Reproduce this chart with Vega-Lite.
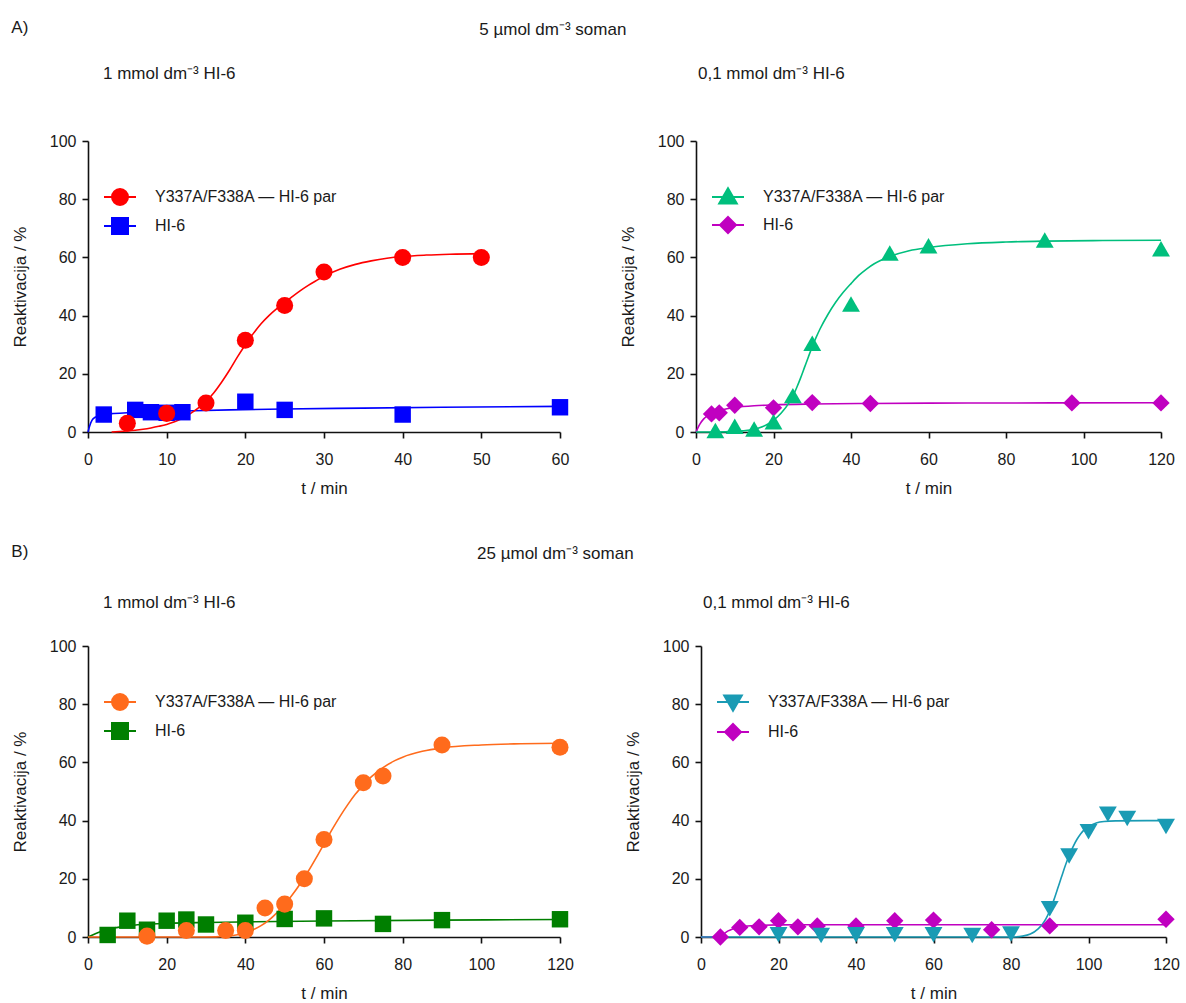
{
  "$schema": "https://vega.github.io/schema/vega-lite/v6.json",
  "padding": {"left": 11, "top": 19, "right": 5, "bottom": 5},
  "background": "white",
  "config": {
    "font": "Liberation Sans",
    "view": {"stroke": null},
    "title": {"font": "Liberation Sans", "fontSize": 17, "fontWeight": "normal", "color": "#1a1a1a"},
    "axis": {"grid": false, "domainColor": "#111", "domainWidth": 1.6, "tickColor": "#111", "tickWidth": 1.6, "tickSize": 6, "labelFont": "Liberation Sans", "labelFontSize": 16, "labelColor": "#1a1a1a", "titleFont": "Liberation Sans", "titleFontSize": 17, "titleFontWeight": "normal", "titleColor": "#1a1a1a", "labelFlush": false},
    "axisX": {"labelPadding": 13, "titlePadding": 13},
    "axisY": {"labelPadding": 6, "titlePadding": 20},
    "line": {"strokeWidth": 1.6, "interpolate": "monotone"},
    "point": {"filled": true, "opacity": 1},
    "legend": {"orient": "none", "legendX": 23, "legendY": 47, "title": null, "labelFont": "Liberation Sans", "labelFontSize": 16, "labelColor": "#1a1a1a", "labelOffset": 26, "rowPadding": 5, "symbolSize": 256, "symbolStrokeWidth": 2, "symbolOpacity": 1, "labelLimit": 400}
  },
  "datasets": {
    "A1_pts": [
      {"series": "HI-6", "t": 2, "r": 6},
      {"series": "HI-6", "t": 6, "r": 7.6},
      {"series": "HI-6", "t": 8, "r": 6.8},
      {"series": "HI-6", "t": 10, "r": 6.6},
      {"series": "HI-6", "t": 12, "r": 6.8},
      {"series": "HI-6", "t": 20, "r": 10.4},
      {"series": "HI-6", "t": 25, "r": 7.6},
      {"series": "HI-6", "t": 40, "r": 6},
      {"series": "HI-6", "t": 60, "r": 8.5},
      {"series": "Y337A/F338A — HI-6 par", "t": 5, "r": 3},
      {"series": "Y337A/F338A — HI-6 par", "t": 10, "r": 6.4},
      {"series": "Y337A/F338A — HI-6 par", "t": 15, "r": 10},
      {"series": "Y337A/F338A — HI-6 par", "t": 20, "r": 31.5},
      {"series": "Y337A/F338A — HI-6 par", "t": 25, "r": 43.5},
      {"series": "Y337A/F338A — HI-6 par", "t": 30, "r": 55},
      {"series": "Y337A/F338A — HI-6 par", "t": 40, "r": 60},
      {"series": "Y337A/F338A — HI-6 par", "t": 50, "r": 60}
    ],
    "A1_fit": [
      {"series": "HI-6", "t": 0, "r": 0},
      {"series": "HI-6", "t": 0.2, "r": 2},
      {"series": "HI-6", "t": 0.5, "r": 4},
      {"series": "HI-6", "t": 1, "r": 5.2},
      {"series": "HI-6", "t": 1.5, "r": 5.7},
      {"series": "HI-6", "t": 2, "r": 6},
      {"series": "HI-6", "t": 3, "r": 6.3},
      {"series": "HI-6", "t": 5, "r": 6.6},
      {"series": "HI-6", "t": 8, "r": 6.9},
      {"series": "HI-6", "t": 12, "r": 7.2},
      {"series": "HI-6", "t": 18, "r": 7.6},
      {"series": "HI-6", "t": 25, "r": 7.9},
      {"series": "HI-6", "t": 35, "r": 8.2},
      {"series": "HI-6", "t": 45, "r": 8.5},
      {"series": "HI-6", "t": 60, "r": 8.8},
      {"series": "Y337A/F338A — HI-6 par", "t": 3, "r": 0},
      {"series": "Y337A/F338A — HI-6 par", "t": 4, "r": 0.15},
      {"series": "Y337A/F338A — HI-6 par", "t": 5, "r": 0.35},
      {"series": "Y337A/F338A — HI-6 par", "t": 6, "r": 0.6},
      {"series": "Y337A/F338A — HI-6 par", "t": 7, "r": 0.95},
      {"series": "Y337A/F338A — HI-6 par", "t": 8, "r": 1.4},
      {"series": "Y337A/F338A — HI-6 par", "t": 9, "r": 1.95},
      {"series": "Y337A/F338A — HI-6 par", "t": 10, "r": 2.6},
      {"series": "Y337A/F338A — HI-6 par", "t": 11, "r": 3.5},
      {"series": "Y337A/F338A — HI-6 par", "t": 12, "r": 4.7},
      {"series": "Y337A/F338A — HI-6 par", "t": 13, "r": 6.3},
      {"series": "Y337A/F338A — HI-6 par", "t": 14, "r": 8.2},
      {"series": "Y337A/F338A — HI-6 par", "t": 15, "r": 10.5},
      {"series": "Y337A/F338A — HI-6 par", "t": 16, "r": 13.5},
      {"series": "Y337A/F338A — HI-6 par", "t": 17, "r": 17.2},
      {"series": "Y337A/F338A — HI-6 par", "t": 18, "r": 21.3},
      {"series": "Y337A/F338A — HI-6 par", "t": 19, "r": 25.8},
      {"series": "Y337A/F338A — HI-6 par", "t": 20, "r": 30},
      {"series": "Y337A/F338A — HI-6 par", "t": 21, "r": 33.8},
      {"series": "Y337A/F338A — HI-6 par", "t": 22, "r": 37.2},
      {"series": "Y337A/F338A — HI-6 par", "t": 23, "r": 40},
      {"series": "Y337A/F338A — HI-6 par", "t": 24, "r": 42.4},
      {"series": "Y337A/F338A — HI-6 par", "t": 25, "r": 44.5},
      {"series": "Y337A/F338A — HI-6 par", "t": 26, "r": 46.6},
      {"series": "Y337A/F338A — HI-6 par", "t": 27, "r": 48.6},
      {"series": "Y337A/F338A — HI-6 par", "t": 28, "r": 50.4},
      {"series": "Y337A/F338A — HI-6 par", "t": 29, "r": 52},
      {"series": "Y337A/F338A — HI-6 par", "t": 30, "r": 53.5},
      {"series": "Y337A/F338A — HI-6 par", "t": 32, "r": 55.9},
      {"series": "Y337A/F338A — HI-6 par", "t": 34, "r": 57.6},
      {"series": "Y337A/F338A — HI-6 par", "t": 36, "r": 58.8},
      {"series": "Y337A/F338A — HI-6 par", "t": 38, "r": 59.7},
      {"series": "Y337A/F338A — HI-6 par", "t": 40, "r": 60.3},
      {"series": "Y337A/F338A — HI-6 par", "t": 43, "r": 60.8},
      {"series": "Y337A/F338A — HI-6 par", "t": 46, "r": 61.1},
      {"series": "Y337A/F338A — HI-6 par", "t": 50, "r": 61.3}
    ],
    "A2_pts": [
      {"series": "HI-6", "t": 4, "r": 6.2},
      {"series": "HI-6", "t": 6, "r": 6.6},
      {"series": "HI-6", "t": 10, "r": 9.2},
      {"series": "HI-6", "t": 20, "r": 8.3},
      {"series": "HI-6", "t": 30, "r": 10.1},
      {"series": "HI-6", "t": 45, "r": 9.8},
      {"series": "HI-6", "t": 97, "r": 10},
      {"series": "HI-6", "t": 120, "r": 10},
      {"series": "Y337A/F338A — HI-6 par", "t": 5, "r": 0.5},
      {"series": "Y337A/F338A — HI-6 par", "t": 10, "r": 2},
      {"series": "Y337A/F338A — HI-6 par", "t": 15, "r": 1},
      {"series": "Y337A/F338A — HI-6 par", "t": 20, "r": 3.5},
      {"series": "Y337A/F338A — HI-6 par", "t": 25, "r": 12.5},
      {"series": "Y337A/F338A — HI-6 par", "t": 30, "r": 30.5},
      {"series": "Y337A/F338A — HI-6 par", "t": 40, "r": 44},
      {"series": "Y337A/F338A — HI-6 par", "t": 50, "r": 61.5},
      {"series": "Y337A/F338A — HI-6 par", "t": 60, "r": 64},
      {"series": "Y337A/F338A — HI-6 par", "t": 90, "r": 66},
      {"series": "Y337A/F338A — HI-6 par", "t": 120, "r": 63}
    ],
    "A2_fit": [
      {"series": "HI-6", "t": 0, "r": 0},
      {"series": "HI-6", "t": 1, "r": 2.7},
      {"series": "HI-6", "t": 2, "r": 4.5},
      {"series": "HI-6", "t": 3, "r": 5.6},
      {"series": "HI-6", "t": 4, "r": 6.4},
      {"series": "HI-6", "t": 6, "r": 7.4},
      {"series": "HI-6", "t": 8, "r": 8},
      {"series": "HI-6", "t": 10, "r": 8.4},
      {"series": "HI-6", "t": 15, "r": 9},
      {"series": "HI-6", "t": 20, "r": 9.3},
      {"series": "HI-6", "t": 30, "r": 9.6},
      {"series": "HI-6", "t": 45, "r": 9.8},
      {"series": "HI-6", "t": 70, "r": 9.95},
      {"series": "HI-6", "t": 120, "r": 10.05},
      {"series": "Y337A/F338A — HI-6 par", "t": 0, "r": 0},
      {"series": "Y337A/F338A — HI-6 par", "t": 5, "r": 0},
      {"series": "Y337A/F338A — HI-6 par", "t": 10, "r": 0.2},
      {"series": "Y337A/F338A — HI-6 par", "t": 12, "r": 0.4},
      {"series": "Y337A/F338A — HI-6 par", "t": 14, "r": 0.7},
      {"series": "Y337A/F338A — HI-6 par", "t": 16, "r": 1.3},
      {"series": "Y337A/F338A — HI-6 par", "t": 18, "r": 2.3},
      {"series": "Y337A/F338A — HI-6 par", "t": 20, "r": 4},
      {"series": "Y337A/F338A — HI-6 par", "t": 22, "r": 6.5},
      {"series": "Y337A/F338A — HI-6 par", "t": 24, "r": 10},
      {"series": "Y337A/F338A — HI-6 par", "t": 25, "r": 12.3},
      {"series": "Y337A/F338A — HI-6 par", "t": 26, "r": 15.3},
      {"series": "Y337A/F338A — HI-6 par", "t": 27, "r": 18.6},
      {"series": "Y337A/F338A — HI-6 par", "t": 28, "r": 22.2},
      {"series": "Y337A/F338A — HI-6 par", "t": 29, "r": 25.8},
      {"series": "Y337A/F338A — HI-6 par", "t": 30, "r": 29.3},
      {"series": "Y337A/F338A — HI-6 par", "t": 31, "r": 32.5},
      {"series": "Y337A/F338A — HI-6 par", "t": 32, "r": 35.4},
      {"series": "Y337A/F338A — HI-6 par", "t": 34, "r": 40.3},
      {"series": "Y337A/F338A — HI-6 par", "t": 36, "r": 44.5},
      {"series": "Y337A/F338A — HI-6 par", "t": 38, "r": 48},
      {"series": "Y337A/F338A — HI-6 par", "t": 40, "r": 51},
      {"series": "Y337A/F338A — HI-6 par", "t": 42, "r": 53.8},
      {"series": "Y337A/F338A — HI-6 par", "t": 44, "r": 56},
      {"series": "Y337A/F338A — HI-6 par", "t": 46, "r": 57.8},
      {"series": "Y337A/F338A — HI-6 par", "t": 48, "r": 59.2},
      {"series": "Y337A/F338A — HI-6 par", "t": 50, "r": 60.3},
      {"series": "Y337A/F338A — HI-6 par", "t": 55, "r": 62.3},
      {"series": "Y337A/F338A — HI-6 par", "t": 60, "r": 63.4},
      {"series": "Y337A/F338A — HI-6 par", "t": 70, "r": 64.7},
      {"series": "Y337A/F338A — HI-6 par", "t": 80, "r": 65.3},
      {"series": "Y337A/F338A — HI-6 par", "t": 90, "r": 65.6},
      {"series": "Y337A/F338A — HI-6 par", "t": 105, "r": 65.8},
      {"series": "Y337A/F338A — HI-6 par", "t": 120, "r": 65.9}
    ],
    "B1_pts": [
      {"series": "HI-6", "t": 5, "r": 0.7},
      {"series": "HI-6", "t": 10, "r": 5.6},
      {"series": "HI-6", "t": 15, "r": 2.5},
      {"series": "HI-6", "t": 20, "r": 5.6},
      {"series": "HI-6", "t": 25, "r": 6},
      {"series": "HI-6", "t": 30, "r": 4.3},
      {"series": "HI-6", "t": 40, "r": 4.9},
      {"series": "HI-6", "t": 50, "r": 6.2},
      {"series": "HI-6", "t": 60, "r": 6.4},
      {"series": "HI-6", "t": 75, "r": 4.5},
      {"series": "HI-6", "t": 90, "r": 5.8},
      {"series": "HI-6", "t": 120, "r": 6.1},
      {"series": "Y337A/F338A — HI-6 par", "t": 15, "r": 0.3},
      {"series": "Y337A/F338A — HI-6 par", "t": 25, "r": 2.2},
      {"series": "Y337A/F338A — HI-6 par", "t": 35, "r": 2.2},
      {"series": "Y337A/F338A — HI-6 par", "t": 40, "r": 2.2},
      {"series": "Y337A/F338A — HI-6 par", "t": 45, "r": 10},
      {"series": "Y337A/F338A — HI-6 par", "t": 50, "r": 11.3},
      {"series": "Y337A/F338A — HI-6 par", "t": 55, "r": 20},
      {"series": "Y337A/F338A — HI-6 par", "t": 60, "r": 33.5},
      {"series": "Y337A/F338A — HI-6 par", "t": 70, "r": 53},
      {"series": "Y337A/F338A — HI-6 par", "t": 75, "r": 55.3},
      {"series": "Y337A/F338A — HI-6 par", "t": 90, "r": 66},
      {"series": "Y337A/F338A — HI-6 par", "t": 120, "r": 65.2}
    ],
    "B1_fit": [
      {"series": "HI-6", "t": 0, "r": 0},
      {"series": "HI-6", "t": 2, "r": 1.2},
      {"series": "HI-6", "t": 4, "r": 2.2},
      {"series": "HI-6", "t": 6, "r": 2.9},
      {"series": "HI-6", "t": 8, "r": 3.4},
      {"series": "HI-6", "t": 10, "r": 3.8},
      {"series": "HI-6", "t": 14, "r": 4.3},
      {"series": "HI-6", "t": 20, "r": 4.7},
      {"series": "HI-6", "t": 30, "r": 5},
      {"series": "HI-6", "t": 40, "r": 5.2},
      {"series": "HI-6", "t": 60, "r": 5.5},
      {"series": "HI-6", "t": 90, "r": 5.8},
      {"series": "HI-6", "t": 120, "r": 6},
      {"series": "Y337A/F338A — HI-6 par", "t": 0, "r": 0},
      {"series": "Y337A/F338A — HI-6 par", "t": 30, "r": 0},
      {"series": "Y337A/F338A — HI-6 par", "t": 35, "r": 0.3},
      {"series": "Y337A/F338A — HI-6 par", "t": 38, "r": 0.8},
      {"series": "Y337A/F338A — HI-6 par", "t": 40, "r": 1.5},
      {"series": "Y337A/F338A — HI-6 par", "t": 42, "r": 2.5},
      {"series": "Y337A/F338A — HI-6 par", "t": 44, "r": 3.9},
      {"series": "Y337A/F338A — HI-6 par", "t": 46, "r": 5.8},
      {"series": "Y337A/F338A — HI-6 par", "t": 48, "r": 8.3},
      {"series": "Y337A/F338A — HI-6 par", "t": 50, "r": 11.2},
      {"series": "Y337A/F338A — HI-6 par", "t": 52, "r": 14.6},
      {"series": "Y337A/F338A — HI-6 par", "t": 54, "r": 18.4},
      {"series": "Y337A/F338A — HI-6 par", "t": 56, "r": 22.6},
      {"series": "Y337A/F338A — HI-6 par", "t": 58, "r": 27.2},
      {"series": "Y337A/F338A — HI-6 par", "t": 60, "r": 32},
      {"series": "Y337A/F338A — HI-6 par", "t": 62, "r": 36.8},
      {"series": "Y337A/F338A — HI-6 par", "t": 64, "r": 41.3},
      {"series": "Y337A/F338A — HI-6 par", "t": 66, "r": 45.4},
      {"series": "Y337A/F338A — HI-6 par", "t": 68, "r": 49.1},
      {"series": "Y337A/F338A — HI-6 par", "t": 70, "r": 52.2},
      {"series": "Y337A/F338A — HI-6 par", "t": 72, "r": 55},
      {"series": "Y337A/F338A — HI-6 par", "t": 75, "r": 58.2},
      {"series": "Y337A/F338A — HI-6 par", "t": 78, "r": 60.6},
      {"series": "Y337A/F338A — HI-6 par", "t": 80, "r": 61.8},
      {"series": "Y337A/F338A — HI-6 par", "t": 85, "r": 63.8},
      {"series": "Y337A/F338A — HI-6 par", "t": 90, "r": 65},
      {"series": "Y337A/F338A — HI-6 par", "t": 100, "r": 66},
      {"series": "Y337A/F338A — HI-6 par", "t": 110, "r": 66.4},
      {"series": "Y337A/F338A — HI-6 par", "t": 120, "r": 66.6}
    ],
    "B2_pts": [
      {"series": "HI-6", "t": 5, "r": 0},
      {"series": "HI-6", "t": 10, "r": 3.3},
      {"series": "HI-6", "t": 15, "r": 3.5},
      {"series": "HI-6", "t": 20, "r": 5.6},
      {"series": "HI-6", "t": 25, "r": 3.5},
      {"series": "HI-6", "t": 30, "r": 3.8},
      {"series": "HI-6", "t": 40, "r": 3.8},
      {"series": "HI-6", "t": 50, "r": 5.6},
      {"series": "HI-6", "t": 60, "r": 5.8},
      {"series": "HI-6", "t": 75, "r": 2.5},
      {"series": "HI-6", "t": 90, "r": 3.8},
      {"series": "HI-6", "t": 120, "r": 6.1},
      {"series": "Y337A/F338A — HI-6 par", "t": 20, "r": 0.8},
      {"series": "Y337A/F338A — HI-6 par", "t": 31, "r": 0.5},
      {"series": "Y337A/F338A — HI-6 par", "t": 40, "r": 0.8},
      {"series": "Y337A/F338A — HI-6 par", "t": 50, "r": 0.8},
      {"series": "Y337A/F338A — HI-6 par", "t": 60, "r": 0.8},
      {"series": "Y337A/F338A — HI-6 par", "t": 70, "r": 0.5},
      {"series": "Y337A/F338A — HI-6 par", "t": 80, "r": 1},
      {"series": "Y337A/F338A — HI-6 par", "t": 90, "r": 9.7},
      {"series": "Y337A/F338A — HI-6 par", "t": 95, "r": 27.8},
      {"series": "Y337A/F338A — HI-6 par", "t": 100, "r": 36.2},
      {"series": "Y337A/F338A — HI-6 par", "t": 105, "r": 42.2},
      {"series": "Y337A/F338A — HI-6 par", "t": 110, "r": 40.7},
      {"series": "Y337A/F338A — HI-6 par", "t": 120, "r": 38}
    ],
    "B2_fit": [
      {"series": "HI-6", "t": 0, "r": 0},
      {"series": "HI-6", "t": 5, "r": 0},
      {"series": "HI-6", "t": 6, "r": 1.2},
      {"series": "HI-6", "t": 7, "r": 2.1},
      {"series": "HI-6", "t": 8, "r": 2.7},
      {"series": "HI-6", "t": 10, "r": 3.4},
      {"series": "HI-6", "t": 12, "r": 3.8},
      {"series": "HI-6", "t": 15, "r": 4},
      {"series": "HI-6", "t": 20, "r": 4.15},
      {"series": "HI-6", "t": 30, "r": 4.2},
      {"series": "HI-6", "t": 120, "r": 4.2},
      {"series": "Y337A/F338A — HI-6 par", "t": 0, "r": 0},
      {"series": "Y337A/F338A — HI-6 par", "t": 80, "r": 0},
      {"series": "Y337A/F338A — HI-6 par", "t": 83, "r": 0.3},
      {"series": "Y337A/F338A — HI-6 par", "t": 85, "r": 1},
      {"series": "Y337A/F338A — HI-6 par", "t": 87, "r": 2.8},
      {"series": "Y337A/F338A — HI-6 par", "t": 88, "r": 4.2},
      {"series": "Y337A/F338A — HI-6 par", "t": 89, "r": 6.2},
      {"series": "Y337A/F338A — HI-6 par", "t": 90, "r": 9},
      {"series": "Y337A/F338A — HI-6 par", "t": 91, "r": 12.5},
      {"series": "Y337A/F338A — HI-6 par", "t": 92, "r": 16.5},
      {"series": "Y337A/F338A — HI-6 par", "t": 93, "r": 20.5},
      {"series": "Y337A/F338A — HI-6 par", "t": 94, "r": 24.5},
      {"series": "Y337A/F338A — HI-6 par", "t": 95, "r": 28},
      {"series": "Y337A/F338A — HI-6 par", "t": 96, "r": 31},
      {"series": "Y337A/F338A — HI-6 par", "t": 97, "r": 33.5},
      {"series": "Y337A/F338A — HI-6 par", "t": 98, "r": 35.5},
      {"series": "Y337A/F338A — HI-6 par", "t": 99, "r": 37},
      {"series": "Y337A/F338A — HI-6 par", "t": 100, "r": 38},
      {"series": "Y337A/F338A — HI-6 par", "t": 102, "r": 39.2},
      {"series": "Y337A/F338A — HI-6 par", "t": 104, "r": 39.7},
      {"series": "Y337A/F338A — HI-6 par", "t": 107, "r": 39.9},
      {"series": "Y337A/F338A — HI-6 par", "t": 120, "r": 40}
    ]
  },
  "vconcat": [
    {
      "title": {"text": "A)", "anchor": "start", "frame": "bounds", "offset": 0, "dy": 16},
      "resolve": {"scale": {"color": "independent", "stroke": "independent", "shape": "independent", "x": "independent", "y": "independent"}, "legend": {"color": "independent", "stroke": "independent", "shape": "independent"}},
      "vconcat": [
        {
          "title": {"text": "5 µmol dm⁻³ soman", "anchor": "middle", "frame": "bounds", "dx": -40, "offset": 26},
          "spacing": 50,
          "resolve": {"scale": {"color": "independent", "stroke": "independent", "shape": "independent", "x": "independent", "y": "independent"}, "legend": {"color": "independent", "stroke": "independent", "shape": "independent"}},
          "hconcat": [
            {
              "width": 472, "height": 291,
              "title": {"text": "1 mmol dm⁻³ HI-6", "anchor": "start", "frame": "group", "dx": 15, "offset": 50},
              "encoding": {
                "x": {"field": "t", "type": "quantitative", "scale": {"domain": [0, 60], "nice": false}, "axis": {"title": "t / min", "values": [0, 10, 20, 30, 40, 50, 60]}},
                "y": {"field": "r", "type": "quantitative", "scale": {"domain": [0, 100], "nice": false}, "axis": {"title": "Reaktivacija / %", "values": [0, 20, 40, 60, 80, 100]}}
              },
              "layer": [
                {"data": {"name": "A1_fit"}, "transform": [{"filter": "datum.series == 'HI-6'"}], "mark": {"type": "line", "color": "#0000FF"}},
                {"data": {"name": "A1_fit"}, "transform": [{"filter": "datum.series != 'HI-6'"}], "mark": {"type": "line", "color": "#FF0000"}},
                {"data": {"name": "A1_pts"}, "transform": [{"filter": "datum.series == 'HI-6'"}], "mark": {"type": "point", "shape": "square", "size": 270, "color": "#0000FF"}},
                {"data": {"name": "A1_pts"}, "transform": [{"filter": "datum.series != 'HI-6'"}], "mark": {"type": "point", "shape": "circle", "size": 290, "color": "#FF0000"}},
                {
                  "data": {"name": "A1_pts"},
                  "mark": {"type": "point", "opacity": 0},
                  "encoding": {
                    "color": {"field": "series", "type": "nominal", "scale": {"domain": ["Y337A/F338A — HI-6 par", "HI-6"], "range": ["#FF0000", "#0000FF"]}},
                    "stroke": {"field": "series", "type": "nominal", "scale": {"domain": ["Y337A/F338A — HI-6 par", "HI-6"], "range": ["#FF0000", "#0000FF"]}},
                    "shape": {"field": "series", "type": "nominal", "scale": {"domain": ["Y337A/F338A — HI-6 par", "HI-6"], "range": ["M-2,0H2M-1,0A1,1 0 1,1 1,0A1,1 0 1,1 -1,0Z", "M-2,0H2M-1,-1H1V1H-1Z"]}}
                  }
                }
              ]
            },
            {
              "width": 465, "height": 291,
              "title": {"text": "0,1 mmol dm⁻³ HI-6", "anchor": "start", "frame": "group", "dx": 2, "offset": 50},
              "encoding": {
                "x": {"field": "t", "type": "quantitative", "scale": {"domain": [0, 120], "nice": false}, "axis": {"title": "t / min", "values": [0, 20, 40, 60, 80, 100, 120]}},
                "y": {"field": "r", "type": "quantitative", "scale": {"domain": [0, 100], "nice": false}, "axis": {"title": "Reaktivacija / %", "values": [0, 20, 40, 60, 80, 100]}}
              },
              "layer": [
                {"data": {"name": "A2_fit"}, "transform": [{"filter": "datum.series == 'HI-6'"}], "mark": {"type": "line", "color": "#C000C0"}},
                {"data": {"name": "A2_fit"}, "transform": [{"filter": "datum.series != 'HI-6'"}], "mark": {"type": "line", "color": "#00BF7D"}},
                {"data": {"name": "A2_pts"}, "transform": [{"filter": "datum.series == 'HI-6'"}], "mark": {"type": "point", "shape": "diamond", "size": 300, "color": "#C000C0"}},
                {"data": {"name": "A2_pts"}, "transform": [{"filter": "datum.series != 'HI-6'"}], "mark": {"type": "point", "shape": "triangle-up", "size": 320, "color": "#00BF7D"}},
                {
                  "data": {"name": "A2_pts"},
                  "mark": {"type": "point", "opacity": 0},
                  "encoding": {
                    "color": {"field": "series", "type": "nominal", "scale": {"domain": ["Y337A/F338A — HI-6 par", "HI-6"], "range": ["#00BF7D", "#C000C0"]}},
                    "stroke": {"field": "series", "type": "nominal", "scale": {"domain": ["Y337A/F338A — HI-6 par", "HI-6"], "range": ["#00BF7D", "#C000C0"]}},
                    "shape": {"field": "series", "type": "nominal", "scale": {"domain": ["Y337A/F338A — HI-6 par", "HI-6"], "range": ["M-2,0H2M0,-1.1L1.1,0.8L-1.1,0.8Z", "M-2,0H2M0,-1L1,0L0,1L-1,0Z"]}}
                  }
                }
              ]
            }
          ]
        }
      ]
    },
    {
      "title": {"text": "B)", "anchor": "start", "frame": "bounds", "offset": 0, "dy": 16},
      "resolve": {"scale": {"color": "independent", "stroke": "independent", "shape": "independent", "x": "independent", "y": "independent"}, "legend": {"color": "independent", "stroke": "independent", "shape": "independent"}},
      "vconcat": [
        {
          "title": {"text": "25 µmol dm⁻³ soman", "anchor": "middle", "frame": "bounds", "dx": -40, "offset": 31},
          "spacing": 50,
          "resolve": {"scale": {"color": "independent", "stroke": "independent", "shape": "independent", "x": "independent", "y": "independent"}, "legend": {"color": "independent", "stroke": "independent", "shape": "independent"}},
          "hconcat": [
            {
              "width": 472, "height": 291,
              "title": {"text": "1 mmol dm⁻³ HI-6", "anchor": "start", "frame": "group", "dx": 15, "offset": 26},
              "encoding": {
                "x": {"field": "t", "type": "quantitative", "scale": {"domain": [0, 120], "nice": false}, "axis": {"title": "t / min", "values": [0, 20, 40, 60, 80, 100, 120]}},
                "y": {"field": "r", "type": "quantitative", "scale": {"domain": [0, 100], "nice": false}, "axis": {"title": "Reaktivacija / %", "values": [0, 20, 40, 60, 80, 100]}}
              },
              "layer": [
                {"data": {"name": "B1_fit"}, "transform": [{"filter": "datum.series == 'HI-6'"}], "mark": {"type": "line", "color": "#007F00"}},
                {"data": {"name": "B1_fit"}, "transform": [{"filter": "datum.series != 'HI-6'"}], "mark": {"type": "line", "color": "#FF6B1C"}},
                {"data": {"name": "B1_pts"}, "transform": [{"filter": "datum.series == 'HI-6'"}], "mark": {"type": "point", "shape": "square", "size": 270, "color": "#007F00"}},
                {"data": {"name": "B1_pts"}, "transform": [{"filter": "datum.series != 'HI-6'"}], "mark": {"type": "point", "shape": "circle", "size": 290, "color": "#FF6B1C"}},
                {
                  "data": {"name": "B1_pts"},
                  "mark": {"type": "point", "opacity": 0},
                  "encoding": {
                    "color": {"field": "series", "type": "nominal", "scale": {"domain": ["Y337A/F338A — HI-6 par", "HI-6"], "range": ["#FF6B1C", "#007F00"]}},
                    "stroke": {"field": "series", "type": "nominal", "scale": {"domain": ["Y337A/F338A — HI-6 par", "HI-6"], "range": ["#FF6B1C", "#007F00"]}},
                    "shape": {"field": "series", "type": "nominal", "scale": {"domain": ["Y337A/F338A — HI-6 par", "HI-6"], "range": ["M-2,0H2M-1,0A1,1 0 1,1 1,0A1,1 0 1,1 -1,0Z", "M-2,0H2M-1,-1H1V1H-1Z"]}}
                  }
                }
              ]
            },
            {
              "width": 465, "height": 291,
              "title": {"text": "0,1 mmol dm⁻³ HI-6", "anchor": "start", "frame": "group", "dx": 2, "offset": 26},
              "encoding": {
                "x": {"field": "t", "type": "quantitative", "scale": {"domain": [0, 120], "nice": false}, "axis": {"title": "t / min", "values": [0, 20, 40, 60, 80, 100, 120]}},
                "y": {"field": "r", "type": "quantitative", "scale": {"domain": [0, 100], "nice": false}, "axis": {"title": "Reaktivacija / %", "values": [0, 20, 40, 60, 80, 100]}}
              },
              "layer": [
                {"data": {"name": "B2_fit"}, "transform": [{"filter": "datum.series == 'HI-6'"}], "mark": {"type": "line", "color": "#C000C0"}},
                {"data": {"name": "B2_fit"}, "transform": [{"filter": "datum.series != 'HI-6'"}], "mark": {"type": "line", "color": "#1A9BB4"}},
                {"data": {"name": "B2_pts"}, "transform": [{"filter": "datum.series == 'HI-6'"}], "mark": {"type": "point", "shape": "diamond", "size": 300, "color": "#C000C0"}},
                {"data": {"name": "B2_pts"}, "transform": [{"filter": "datum.series != 'HI-6'"}], "mark": {"type": "point", "shape": "triangle-down", "size": 320, "color": "#1A9BB4"}},
                {
                  "data": {"name": "B2_pts"},
                  "mark": {"type": "point", "opacity": 0},
                  "encoding": {
                    "color": {"field": "series", "type": "nominal", "scale": {"domain": ["Y337A/F338A — HI-6 par", "HI-6"], "range": ["#1A9BB4", "#C000C0"]}},
                    "stroke": {"field": "series", "type": "nominal", "scale": {"domain": ["Y337A/F338A — HI-6 par", "HI-6"], "range": ["#1A9BB4", "#C000C0"]}},
                    "shape": {"field": "series", "type": "nominal", "scale": {"domain": ["Y337A/F338A — HI-6 par", "HI-6"], "range": ["M-2,0H2M0,1.1L1.1,-0.8L-1.1,-0.8Z", "M-2,0H2M0,-1L1,0L0,1L-1,0Z"]}}
                  }
                }
              ]
            }
          ]
        }
      ]
    }
  ],
  "spacing": 47,
  "resolve": {"scale": {"color": "independent", "stroke": "independent", "shape": "independent", "x": "independent", "y": "independent"}, "legend": {"color": "independent", "stroke": "independent", "shape": "independent"}}
}
